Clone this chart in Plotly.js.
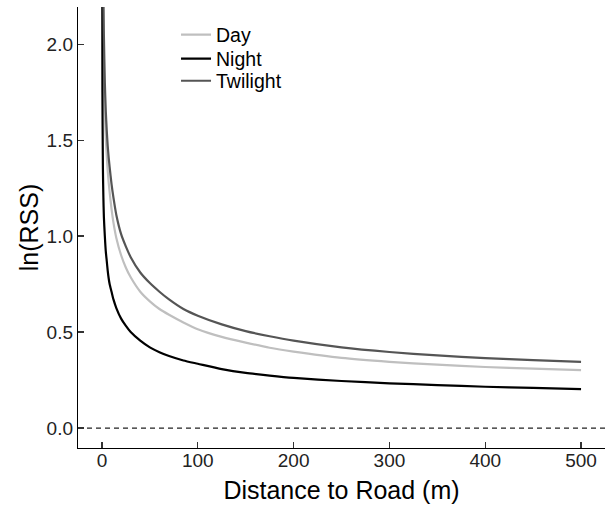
<!DOCTYPE html>
<html>
<head>
<meta charset="utf-8">
<script src="https://cdn.plot.ly/plotly-3.0.1.min.js"></script>
<style>html,body{margin:0;padding:0;background:#fff;}#chart{width:605px;height:509px;}</style>
</head>
<body>
<div id="chart"></div>
<script>
// Distance to road (m)
const distance = [0, 0.5, 1, 1.5, 2, 3, 4, 5, 6, 7, 8, 10, 12, 15, 20, 25, 30, 40, 50, 60, 70, 85, 100, 125, 150, 175, 200, 250, 300, 350, 400, 450, 500];
// ln(RSS)
const day = [4.0, 2.9, 2.35, 2.05, 1.87, 1.65, 1.51, 1.42, 1.34, 1.28, 1.23, 1.14, 1.07, 0.99, 0.9, 0.835, 0.785, 0.71, 0.66, 0.62, 0.59, 0.55, 0.515, 0.475, 0.445, 0.418, 0.398, 0.365, 0.345, 0.33, 0.318, 0.309, 0.302];
const night = [3.5, 1.75, 1.35, 1.2, 1.1, 1.0, 0.92, 0.87, 0.82, 0.78, 0.75, 0.71, 0.67, 0.625, 0.57, 0.532, 0.5, 0.455, 0.42, 0.395, 0.375, 0.352, 0.335, 0.307, 0.287, 0.273, 0.261, 0.245, 0.233, 0.224, 0.215, 0.209, 0.203];
const twilight = [4.5, 3.3, 2.6, 2.25, 2.05, 1.8, 1.65, 1.55, 1.47, 1.41, 1.36, 1.27, 1.2, 1.11, 1.01, 0.945, 0.89, 0.81, 0.755, 0.71, 0.67, 0.62, 0.585, 0.54, 0.505, 0.478, 0.455, 0.42, 0.396, 0.378, 0.364, 0.354, 0.345];
const seriesNames = ['Day', 'Night', 'Twilight'];
const xTicks = [0, 100, 200, 300, 400, 500];
const yTicks = [0, 0.5, 1, 1.5, 2];
const yTickText = ['0.0', '0.5', '1.0', '1.5', '2.0'];
const refLine = 0;

const colors = ['#bfbfbf', '#000000', '#555555'];
const values = [day, night, twilight];
const legendIds = ['legend', 'legend2', 'legend3'];
const legendY = [0.9365, 0.882, 0.832];
const FONT = '"Liberation Sans", Arial, Helvetica, sans-serif';

const traces = seriesNames.map((n, i) => ({
  x: distance, y: values[i], name: n, type: 'scatter', mode: 'lines',
  legend: legendIds[i],
  line: {color: colors[i], width: 2.2, shape: 'spline', smoothing: 0.6},
  hoverinfo: 'skip'
}));

const axisCommon = {
  showline: true, linecolor: '#000', linewidth: 1.2,
  ticks: 'inside', ticklen: 6, tickwidth: 1.1, tickcolor: '#333',
  showgrid: false, zeroline: false,
  tickfont: {family: FONT, size: 19, color: '#222'},
  automargin: false
};

const layout = {
  width: 605, height: 509,
  margin: {l: 78, r: 0, t: 7, b: 61, pad: 0},
  paper_bgcolor: '#fff', plot_bgcolor: '#fff',
  font: {family: FONT, color: '#000'},
  showlegend: true,
  xaxis: Object.assign({}, axisCommon, {
    range: [-25, 525], tickvals: xTicks, ticktext: xTicks.map(String),
    ticklabelstandoff: -5,
    title: {text: 'Distance to Road (m)', standoff: 11, font: {family: FONT, size: 25, color: '#000'}}
  }),
  yaxis: Object.assign({}, axisCommon, {
    range: [-0.104, 2.193], tickvals: yTicks, ticktext: yTickText,
    title: {text: 'ln(RSS)', standoff: 0, font: {family: FONT, size: 25, color: '#000'}}
  }),
  shapes: [{type: 'line', xref: 'paper', x0: 0, x1: 1, yref: 'y', y0: refLine, y1: refLine,
            line: {color: '#222', width: 1.3, dash: '5px,4px'}, layer: 'below'}]
};
legendIds.forEach((id, i) => {
  layout[id] = {x: 0.186, xanchor: 'left', y: legendY[i], yanchor: 'middle',
                bgcolor: 'rgba(0,0,0,0)', borderwidth: 0,
                font: {family: FONT, size: 19.5, color: '#000'}};
});

Plotly.newPlot('chart', traces, layout, {staticPlot: true, displayModeBar: false});
</script>
</body>
</html>
